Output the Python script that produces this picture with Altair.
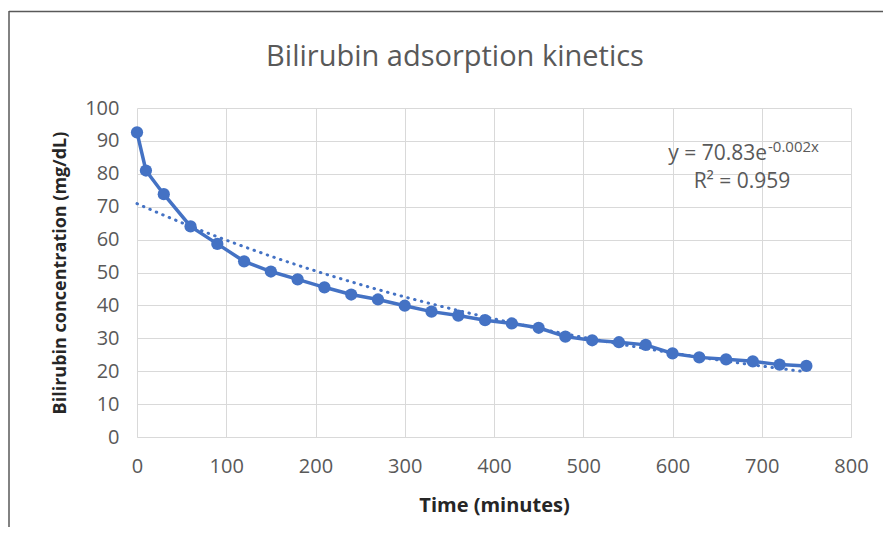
import altair as alt
import numpy as np
import pandas as pd

# ---- data ----
time_min = [0, 10, 30, 60, 90, 120, 150, 180, 210, 240, 270, 300, 330, 360,
            390, 420, 450, 480, 510, 540, 570, 600, 630, 660, 690, 720, 750]
bilirubin = [92.6, 81.0, 73.8, 64.0, 58.7, 53.4, 50.3, 47.9, 45.5, 43.3, 41.8,
             39.9, 38.1, 36.9, 35.5, 34.5, 33.2, 30.5, 29.4, 28.8, 28.0, 25.4,
             24.2, 23.6, 23.0, 22.0, 21.6]
x_ticks = [0, 100, 200, 300, 400, 500, 600, 700, 800]
y_ticks = [0, 10, 20, 30, 40, 50, 60, 70, 80, 90, 100]

title_text = "Bilirubin adsorption kinetics"
x_title = "Time (minutes)"
y_title = "Bilirubin concentration (mg/dL)"
eq_main = "y = 70.83e"
eq_sup = "-0.002x"
r2_text = "R² = 0.959"

# exponential trendline (least squares on ln y, as a spreadsheet trendline does)
b_fit, ln_a = np.polyfit(np.array(time_min, float), np.log(np.array(bilirubin)), 1)
a_fit = float(np.exp(ln_a))
b_fit = float(b_fit)

df = pd.DataFrame({"t": time_min, "c": bilirubin})

W, H = 714, 329
BLUE = "#4472C4"
GRAY = "#595959"
FONT = "Open Sans"

xs = alt.Scale(domain=[0, 800], nice=False, zero=False)
ys = alt.Scale(domain=[0, 100], nice=False)

x_axis = alt.Axis(values=x_ticks, title=x_title, labelPadding=19, titlePadding=19,
                  labelFlush=False, labelOverlap=False, titleFontSize=20)
y_axis = alt.Axis(values=y_ticks, title=y_title, labelPadding=18, titlePadding=15,
                  labelFlush=False, labelOverlap=False, titleFontSize=18)

base = alt.Chart(df)

line = base.mark_line(color=BLUE, strokeWidth=3.5).encode(
    x=alt.X("t:Q", scale=xs, axis=x_axis),
    y=alt.Y("c:Q", scale=ys, axis=y_axis),
)
points = base.mark_circle(color=BLUE, size=150, opacity=1).encode(
    x=alt.X("t:Q", scale=xs, axis=x_axis),
    y=alt.Y("c:Q", scale=ys, axis=y_axis),
)

trend = alt.Chart(alt.sequence(0, 751, 5, as_="t")).transform_calculate(
    fit=f"{a_fit} * exp({b_fit} * datum.t)"
).mark_line(color=BLUE, strokeWidth=3, strokeDash=[0.5, 6.5], strokeCap="round").encode(
    x=alt.X("t:Q", scale=xs, axis=x_axis),
    y=alt.Y("fit:Q", scale=ys, axis=y_axis),
)

one = pd.DataFrame({"k": [0]})
title_mark = alt.Chart(one).mark_text(
    text=title_text, font=FONT, fontSize=29, color=GRAY, align="center",
    baseline="alphabetic", x=318, y=-42,
).encode()
eq1 = alt.Chart(one).mark_text(
    text=eq_main, font=FONT, fontSize=21, color=GRAY, align="right",
    baseline="alphabetic", x=630, y=52,
).encode()
eq2 = alt.Chart(one).mark_text(
    text=eq_sup, font=FONT, fontSize=15, color=GRAY, align="left",
    baseline="alphabetic", x=631, y=44,
).encode()
eq3 = alt.Chart(one).mark_text(
    text=r2_text, font=FONT, fontSize=21, color=GRAY, align="center",
    baseline="alphabetic", x=605, y=80,
).encode()

# chart-area frame (top and left edges visible in the reference)
frame_top = alt.Chart(one).mark_rule(color=GRAY, strokeWidth=1.5).encode(
    x=alt.value(-128), x2=alt.value(760), y=alt.value(-96.5)
)
frame_left = alt.Chart(one).mark_rule(color=GRAY, strokeWidth=1.5).encode(
    x=alt.value(-128), y=alt.value(-97), y2=alt.value(430)
)

chart = alt.layer(line, trend, points, title_mark, eq1, eq2, eq3,
                  frame_top, frame_left).properties(
    width=W,
    height=H,
    autosize=alt.AutoSizeParams(type="none"),
    padding={"left": 129, "top": 100, "right": 32, "bottom": 90},
).configure_view(stroke=None).configure_axis(
    grid=True, gridColor="#d9d9d9", gridWidth=1, domainColor="#d9d9d9",
    domainWidth=1, ticks=False, labelFont=FONT, labelFontSize=20,
    labelColor=GRAY, titleFont=FONT, titleFontWeight="bold",
    titleColor="#262626", labelOverlap=False, labelFlush=False,
).configure_axisY(domain=False)

chart.save("out.html", embed_options={"renderer": "svg", "actions": False})
